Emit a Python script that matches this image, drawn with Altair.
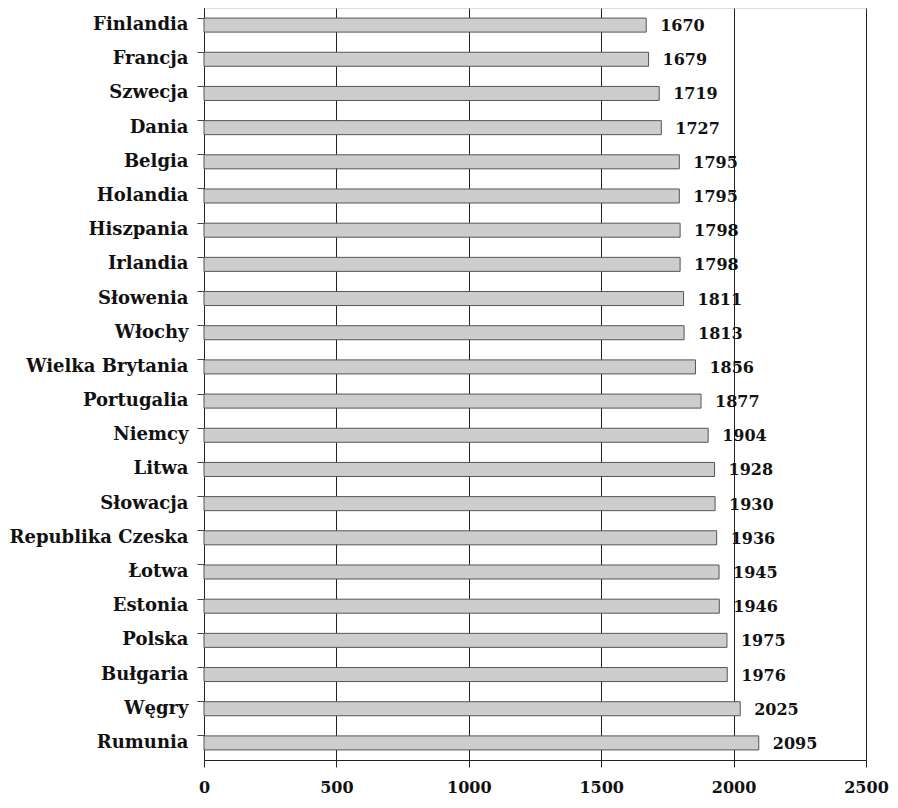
import altair as alt
import pandas as pd

countries = ["Finlandia", "Francja", "Szwecja", "Dania", "Belgia", "Holandia",
             "Hiszpania", "Irlandia", "Słowenia", "Włochy", "Wielka Brytania",
             "Portugalia", "Niemcy", "Litwa", "Słowacja", "Republika Czeska",
             "Łotwa", "Estonia", "Polska", "Bułgaria", "Węgry", "Rumunia"]
values = [1670, 1679, 1719, 1727, 1795, 1795, 1798, 1798, 1811, 1813, 1856,
          1877, 1904, 1928, 1930, 1936, 1945, 1946, 1975, 1976, 2025, 2095]
x_ticks = [0, 500, 1000, 1500, 2000, 2500]

df = pd.DataFrame({"kraj": countries, "wartosc": values})

FONT = "DejaVu Serif"
FS = 18
FS_NUM = 16

x_enc = alt.X("wartosc:Q",
              scale=alt.Scale(domain=[0, 2500], nice=False),
              axis=alt.Axis(values=x_ticks, title=None, grid=True, format="d",
                            gridColor="#222", gridOpacity=1, gridWidth=1,
                            domainColor="#222", tickColor="#222", tickSize=7,
                            labelPadding=12, labelFont=FONT, labelFontSize=FS_NUM,
                            labelFontWeight="bold", labelColor="#111",
                            labelFlush=False))
y_enc = alt.Y("kraj:N", sort=countries,
              scale=alt.Scale(paddingInner=0.59),
              axis=alt.Axis(title=None, bandPosition=0,
                            tickSize=7, tickColor="#444", domainColor="#222",
                            labelPadding=9, labelFont=FONT, labelFontSize=FS,
                            labelFontWeight="bold", labelColor="#111"))

bars = alt.Chart(df).mark_bar(color="#cdcdcd", stroke="#555",
                              strokeWidth=1).encode(x=x_enc, y=y_enc)

labels = alt.Chart(df).mark_text(align="left", baseline="middle", dx=14, dy=1,
                                 font=FONT, fontSize=FS_NUM, fontWeight="bold",
                                 color="#111").encode(
    x="wartosc:Q", y=alt.Y("kraj:N", sort=countries), text="wartosc:Q")

chart = (bars + labels).properties(
    width=662, height=752,
    padding={"top": 0, "left": 0, "right": 0, "bottom": 0},
).configure_view(stroke=None).configure(background="white")

chart.save("out.html", embed_options={"renderer": "svg", "actions": False})
